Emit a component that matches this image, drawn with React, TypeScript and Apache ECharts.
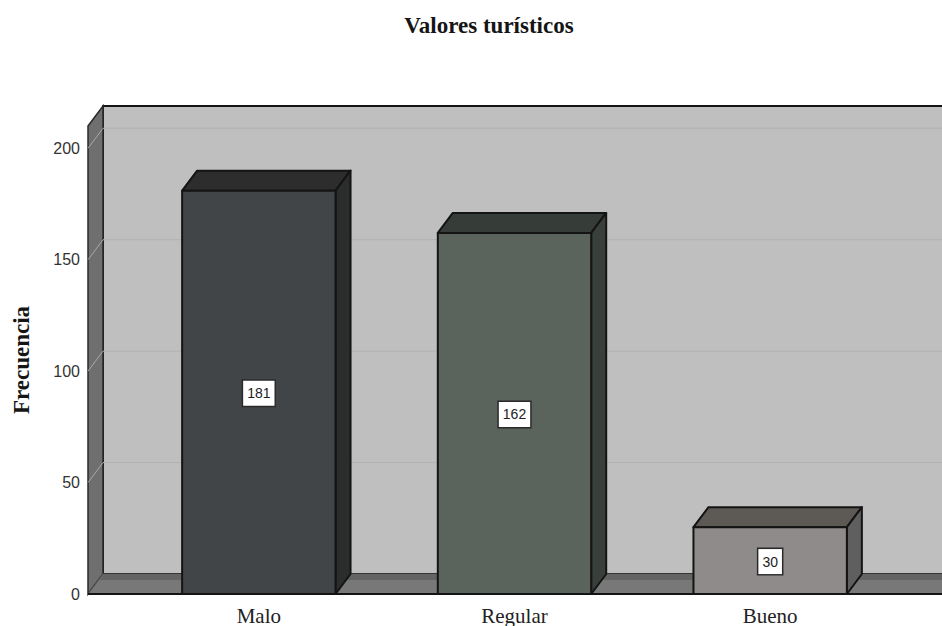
import React, { useEffect, useRef } from "react";
import * as echarts from "echarts";

const categories = ["Malo", "Regular", "Bueno"];
const frequencies = [181, 162, 30];
const tickValues = [0, 50, 100, 150, 200];
const frontColors = ["#424547", "#5a635c", "#8f8b8a"];
const topColors = ["#2d2d2d", "#363d39", "#5d5955"];
const sideColors = ["#2b2c2c", "#39403c", "#5f5f5f"];
const titleText = "Valores turísticos";
const yAxisName = "Frecuencia";

const DX = 15;
const DY = 20;
const EDGE = "#141414";
const SERIF = "'Liberation Serif', 'Times New Roman', serif";
const SANS = "'Liberation Sans', Arial, sans-serif";

export default function App() {
  const ref = useRef<HTMLDivElement>(null);
  useEffect(() => {
    const chart = echarts.init(ref.current!, null, { renderer: "svg" });
    const wallOffset = 43;
    chart.setOption({
      animation: false,
      backgroundColor: "#ffffff",
      title: {
        text: titleText,
        left: 484,
        top: 9,
        textAlign: "center",
        textStyle: { fontFamily: SERIF, fontSize: 23, fontWeight: "bold", color: "#151515" },
      },
      grid: { left: 131, top: 126, width: 767, height: 468.5 },
      xAxis: {
        type: "category",
        data: categories,
        axisLine: { show: false },
        axisTick: { show: false },
        axisLabel: { fontFamily: SERIF, fontSize: 21, color: "#222", margin: 11 },
      },
      yAxis: {
        type: "value",
        min: 0,
        max: 210,
        interval: 50,
        offset: wallOffset,
        name: yAxisName,
        nameLocation: "middle",
        nameGap: 55,
        nameTextStyle: { fontFamily: SERIF, fontSize: 23, fontWeight: "bold", color: "#151515" },
        axisLine: { show: false },
        axisTick: { show: false },
        splitLine: { show: false },
        axisLabel: {
          customValues: tickValues,
          fontFamily: SANS,
          fontSize: 16,
          color: "#333",
          margin: 8,
          padding: [4, 0, 0, 0],
        },
      },
      series: [
        {
          type: "custom",
          silent: true,
          z: 1,
          data: [[0]],
          renderItem: (params: any, api: any) => {
            const cs = params.coordSys;
            const l = cs.x - wallOffset;
            const r = api.getWidth() + 5;
            const t = cs.y;
            const b = cs.y + cs.height;
            const line = { stroke: EDGE, lineWidth: 2 };
            const band = 6;
            return {
              type: "group",
              children: [
                { type: "rect", shape: { x: l + DX, y: t - DY, width: r - l, height: cs.height }, style: { fill: "#bfbfbf", stroke: EDGE, lineWidth: 2 } },
                { type: "polygon", shape: { points: [[l, t], [l + DX, t - DY], [l + DX, b - DY], [l, b]] }, style: { fill: "#6f6f6f", stroke: "#2a2a2a", lineWidth: 1.5 } },
                { type: "polygon", shape: { points: [[l, b], [l + DX, b - DY], [r, b - DY], [r, b]] }, style: { fill: "#787878", stroke: "#555", lineWidth: 1 } },
                { type: "polygon", shape: { points: [[l + DX - band * 0.75, b - DY + band], [l + DX, b - DY], [r, b - DY], [r, b - DY + band]] }, style: { fill: "#646464" } },
                { type: "line", shape: { x1: l, y1: b, x2: r, y2: b }, style: line },
              ],
            };
          },
        },
        {
          type: "custom",
          silent: true,
          z: 2,
          data: tickValues.slice(1).map((v) => [v]),
          encode: { y: 0 },
          renderItem: (params: any, api: any) => {
            const cs = params.coordSys;
            const y = api.coord([0, api.value(0)])[1];
            const l = cs.x - wallOffset;
            return {
              type: "group",
              children: [
                { type: "line", shape: { x1: l, y1: y, x2: l + DX, y2: y - DY }, style: { stroke: "#a8a8a8", lineWidth: 1 } },
                { type: "line", shape: { x1: l + DX, y1: y - DY, x2: api.getWidth(), y2: y - DY }, style: { stroke: "#b2b2b2", lineWidth: 1 } },
              ],
            };
          },
        },
        {
          type: "custom",
          z: 3,
          data: frequencies.map((v, i) => [i, v]),
          encode: { x: 0, y: 1 },
          renderItem: (params: any, api: any) => {
            const i = params.dataIndex;
            const [cx, top] = api.coord([api.value(0), api.value(1)]);
            const [, bottom] = api.coord([api.value(0), 0]);
            const w = api.size([1, 0])[0] * 0.6;
            const l = cx - w / 2;
            const r = cx + w / 2;
            const edge = { stroke: EDGE, lineWidth: 2, lineJoin: "round" };
            return {
              type: "group",
              children: [
                { type: "polygon", shape: { points: [[l, top], [l + DX, top - DY], [r + DX, top - DY], [r, top]] }, style: { fill: topColors[i], ...edge } },
                { type: "polygon", shape: { points: [[r, top], [r + DX, top - DY], [r + DX, bottom - DY], [r, bottom]] }, style: { fill: sideColors[i], ...edge } },
                { type: "rect", shape: { x: l, y: top, width: w, height: bottom - top }, style: { fill: frontColors[i], ...edge } },
                {
                  type: "text",
                  style: {
                    x: cx,
                    y: (top + bottom) / 2 + 1,
                    text: String(api.value(1)),
                    align: "center",
                    verticalAlign: "middle",
                    fontFamily: SANS,
                    fontSize: 14,
                    fill: "#222",
                    backgroundColor: "#ffffff",
                    borderColor: "#2a2a2a",
                    borderWidth: 1.5,
                    padding: [6, 4, 5, 4],
                  },
                },
              ],
            };
          },
        },
      ],
    });
    return () => chart.dispose();
  }, []);
  return <div ref={ref} style={{ position: "absolute", left: 0, top: 0, width: 942, height: 626 }} />;
}
